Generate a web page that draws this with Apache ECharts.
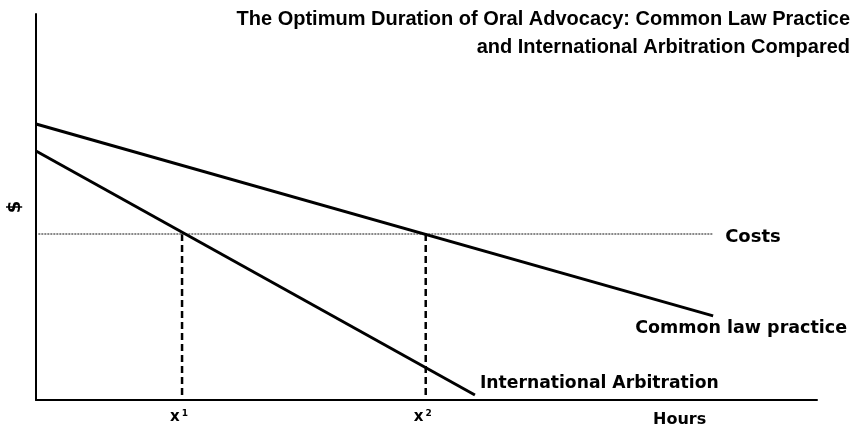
<!DOCTYPE html>
<html>
<head>
<meta charset="utf-8">
<script src="https://cdn.jsdelivr.net/npm/echarts@6/dist/echarts.min.js"></script>
<style>
  html, body { margin: 0; padding: 0; background: #fff; }
  #chart { width: 854px; height: 429px; }
</style>
</head>
<body>
<div id="chart"></div>
<script>
// line end points (x: 0-100 hours, y: 0-100 $)
var commonLaw = [[0, 71.5], [86.7, 21.8]];
var intlArb = [[0, 64.5], [56.2, 1.3]];
var costs = [[0.3, 43.0], [86.7, 43.0]];
var optimumX = [18.7, 49.9];
var optimumLabels = ['x{s|1}', 'x{s|2}'];
var titleLines = ['The Optimum Duration of Oral Advocacy: Common Law Practice', 'and International Arbitration Compared'];

var font = 'Arial, "Liberation Sans", sans-serif';
var wide = '"DejaVu Sans", Verdana, sans-serif';

function dropLine(i) {
    return {
        type: 'line',
        data: [[optimumX[i], costs[0][1]], [optimumX[i], 0]],
        symbol: 'none',
        lineStyle: { color: '#000', width: 2.5, type: [7, 4] },
        silent: true,
        z: 1,
        endLabel: {
            show: true,
            formatter: optimumLabels[i],
            color: '#000',
            fontFamily: wide,
            fontWeight: 'bold',
            fontSize: 15,
            offset: [-20, 17],
            rich: { s: { fontFamily: wide, fontSize: 9, fontWeight: 'bold', verticalAlign: 'top', padding: [0, 0, 7, 2] } }
        }
    };
}

var chart = echarts.init(document.getElementById('chart'));
var option = {
    animation: false,
    title: titleLines.map(function (t, i) {
        return {
            text: t,
            right: 4,
            top: 9 + i * 28,
            padding: 0,
            textStyle: { fontFamily: font, fontWeight: 'bold', fontSize: 20, color: '#000' }
        };
    }),
    grid: { left: 36, right: 37, top: 14, bottom: 29 },
    xAxis: {
        type: 'value', min: 0, max: 100,
        axisLine: { show: true, lineStyle: { color: '#000', width: 2 } },
        axisTick: { show: false }, axisLabel: { show: false }, splitLine: { show: false }
    },
    yAxis: {
        type: 'value', min: 0, max: 100,
        axisLine: { show: true, lineStyle: { color: '#000', width: 2 } },
        axisTick: { show: false }, axisLabel: { show: false }, splitLine: { show: false }
    },
    graphic: [
        { type: 'text', left: 653, top: 412, style: { text: 'Hours', font: 'bold 16px ' + wide, fill: '#000' } },
        { type: 'text', x: 15, y: 207, rotation: Math.PI / 2, style: { text: '$', font: 'bold 18px ' + wide, fill: '#000', align: 'center', verticalAlign: 'middle' } }
    ],
    series: [
        {
            type: 'line', data: costs, symbol: 'none', silent: true, z: 2,
            lineStyle: { color: '#888', width: 2, type: [2, 1] },
            endLabel: { show: true, formatter: 'Costs', color: '#000', fontFamily: wide, fontWeight: 'bold', fontSize: 18, offset: [4, 3] }
        },
        {
            type: 'line', data: commonLaw, symbol: 'none', silent: true, z: 3,
            lineStyle: { color: '#000', width: 3 },
            endLabel: { show: true, formatter: 'Common law practice', color: '#000', fontFamily: wide, fontWeight: 'bold', fontSize: 17.5, offset: [-86, 13] }
        },
        {
            type: 'line', data: intlArb, symbol: 'none', silent: true, z: 3,
            lineStyle: { color: '#000', width: 3 },
            endLabel: { show: true, formatter: 'International Arbitration', color: '#000', fontFamily: wide, fontWeight: 'bold', fontSize: 17.2, offset: [-3, -11] }
        },
        dropLine(0),
        dropLine(1)
    ]
};
chart.setOption(option);
</script>
</body>
</html>
